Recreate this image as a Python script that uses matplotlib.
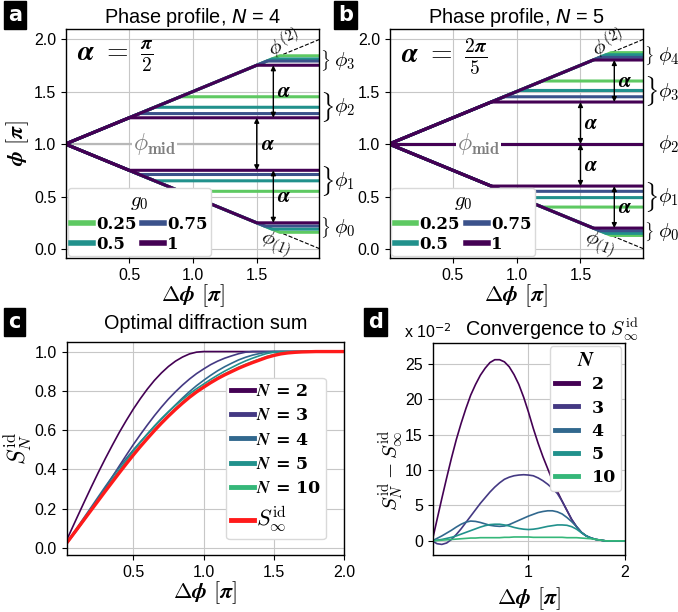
import numpy as np
import matplotlib.pyplot as plt
from matplotlib.lines import Line2D

plt.rcParams['font.family'] = ['Liberation Sans', 'DejaVu Sans']
plt.rcParams['mathtext.fontset'] = 'cm'
plt.rcParams['axes.linewidth'] = 1.0

# ---- phase profiles (panels a, b) ----
g0_values = [0.25, 0.5, 0.75, 1]
g0_labels = ['0.25', '0.5', '0.75', '1']
g0_colors = ['#5ec962', '#21918c', '#3b528b', '#440154']

# phase levels phi_k [pi] for each g0 (rows follow g0_values)
levels_n4 = [[0.16, 0.55, 1.45, 1.84],
             [0.19, 0.65, 1.35, 1.81],
             [0.22, 0.71, 1.29, 1.79],
             [0.25, 0.75, 1.25, 1.75]]
levels_n5 = [[0.13, 0.40, 1.00, 1.60, 1.87],
             [0.15, 0.49, 1.00, 1.51, 1.85],
             [0.175, 0.55, 1.00, 1.45, 1.825],
             [0.20, 0.60, 1.00, 1.40, 1.80]]

# ---- diffraction sums (panels c, d) ----
delta_phi = np.round(np.arange(41) * 0.05, 2)
s_inf = [0.000, 0.048, 0.096, 0.144, 0.192, 0.240, 0.288, 0.335, 0.382, 0.428,
         0.473, 0.516, 0.557, 0.597, 0.635, 0.671, 0.705, 0.737, 0.767, 0.794,
         0.818, 0.841, 0.862, 0.881, 0.898, 0.915, 0.930, 0.944, 0.957, 0.970,
         0.980, 0.988, 0.993, 0.996, 0.998, 0.999, 1.0, 1.0, 1.0, 1.0, 1.0]
# S_N - S_inf, in units of 1e-2
diff_n2 = [0, 3.0, 6.0, 8.9, 11.7, 14.3, 16.6, 18.7, 20.6, 22.1,
           23.4, 24.4, 25.2, 25.6, 25.6, 25.3, 24.6, 23.5, 22.1, 20.3,
           18.2, 15.9, 13.8, 11.9, 10.2, 8.5, 7.0, 5.6, 4.3, 3.0,
           2.0, 1.2, 0.7, 0.4, 0.2, 0.1, 0, 0, 0, 0, 0]
diff_n3 = [0, -0.4, -0.5, -0.3, 0.2, 0.9, 1.7, 2.6, 3.5, 4.4,
           5.3, 6.1, 6.9, 7.6, 8.2, 8.7, 9.0, 9.2, 9.3, 9.35,
           9.3, 9.2, 8.9, 8.5, 8.0, 7.4, 6.7, 5.6, 4.3, 3.0,
           2.0, 1.2, 0.7, 0.4, 0.2, 0.1, 0, 0, 0, 0, 0]
diff_n4 = [0, 0.35, 0.7, 1.1, 1.5, 1.95, 2.35, 2.65, 2.8, 2.75,
           2.6, 2.4, 2.2, 2.1, 2.05, 2.1, 2.3, 2.6, 2.9, 3.2,
           3.5, 3.75, 4.0, 4.15, 4.25, 4.25, 4.1, 3.8, 3.3, 2.7,
           2.0, 1.2, 0.7, 0.4, 0.2, 0.1, 0, 0, 0, 0, 0]
diff_n5 = [0, 0.1, 0.2, 0.35, 0.5, 0.7, 0.95, 1.2, 1.45, 1.7,
           1.95, 2.15, 2.3, 2.35, 2.35, 2.25, 2.1, 1.9, 1.75, 1.65,
           1.6, 1.65, 1.75, 1.9, 2.05, 2.15, 2.25, 2.25, 2.2, 2.0,
           1.65, 1.15, 0.7, 0.4, 0.2, 0.1, 0, 0, 0, 0, 0]
diff_n10 = [0, 0.05, 0.1, 0.15, 0.2, 0.25, 0.3, 0.35, 0.4, 0.4,
            0.45, 0.45, 0.45, 0.45, 0.45, 0.5, 0.5, 0.55, 0.55, 0.55,
            0.55, 0.5, 0.5, 0.5, 0.5, 0.5, 0.5, 0.5, 0.45, 0.45,
            0.45, 0.4, 0.35, 0.3, 0.2, 0.1, 0, 0, 0, 0, 0]
n_values = [2, 3, 4, 5, 10]
n_colors = ['#440154', '#443983', '#31688e', '#21918c', '#35b779']
diffs = [diff_n2, diff_n3, diff_n4, diff_n5, diff_n10]

fig = plt.figure(figsize=(6.78, 6.12), dpi=100)
ax_a = fig.add_axes([0.0973, 0.5784, 0.3736, 0.3742])
ax_b = fig.add_axes([0.5748, 0.5784, 0.3736, 0.3742])
ax_c = fig.add_axes([0.0983, 0.0931, 0.409, 0.3485])
ax_d = fig.add_axes([0.6382, 0.0931, 0.2832, 0.3469])

xlab = r'$\boldsymbol{\Delta\phi}\ [\boldsymbol{\pi}]$'


def bold_serif(size):
    return dict(family='DejaVu Serif', weight='bold', size=size)


def phase_panel(ax, levels, n, alpha_txt, arrows):
    ax.grid(True, color='0.78', lw=0.8)
    ax.set_axisbelow(True)
    ax.plot([0, 2], [1, 2], 'k--', lw=0.8, zorder=1)
    ax.plot([0, 2], [1, 0], 'k--', lw=0.8, zorder=1)
    if n % 2 == 0:
        ax.axhline(1.0, color='0.72', lw=1.6, zorder=1)
    for lv, col in zip(levels, g0_colors):
        for y in lv:
            xs = 2 * abs(y - 1)
            ax.plot([0, xs, 2], [1, y, y], color=col, lw=2.2,
                    solid_capstyle='butt', zorder=2)
    ax.text(0.7, 1.0, r'$\phi_{\mathbf{mid}}$', color='0.5', fontsize=17,
            ha='center', va='center', zorder=4,
            bbox=dict(facecolor='white', edgecolor='none', pad=0.5))
    ax.text(1.72, 1.96, r'$\phi^{(2)}$', fontsize=15, rotation=22,
            ha='center', va='center', zorder=4)
    ax.text(1.65, 0.05, r'$\phi_{(1)}$', fontsize=15, rotation=-22,
            ha='center', va='center', zorder=4)
    ax.text(0.09, 1.84, alpha_txt, fontsize=20, ha='left', va='center')
    for x, y0, y1 in arrows:
        ax.annotate('', xy=(x, y1), xytext=(x, y0),
                    arrowprops=dict(arrowstyle='<|-|>', color='k', lw=1,
                                    mutation_scale=7, shrinkA=0, shrinkB=0),
                    zorder=5)
        ax.text(x + 0.03, (y0 + y1) / 2, r'$\boldsymbol{\alpha}$',
                fontsize=15, ha='left', va='center', zorder=5)
    # group labels on the right
    tr = ax.get_yaxis_transform()
    arr = np.array(levels)
    for k in range(n):
        lo, hi = arr[:, k].min(), arr[:, k].max()
        mid = (lo + hi) / 2
        span = hi - lo
        if span > 0.01:
            ax.text(1.003, mid, r'$\}$', fontsize=8 + 50 * span,
                    transform=tr, ha='left', va='center', clip_on=False)
        ax.text(1.058, mid, r'$\phi_{%d}$' % k, fontsize=15,
                transform=tr, ha='left', va='center', clip_on=False)
    handles = [Line2D([], [], color=c, lw=4) for c in g0_colors]
    ax.legend(handles, g0_labels, title=r'$\boldsymbol{g_0}$', ncol=2,
              loc='lower left', prop=bold_serif(12), title_fontsize=15,
              handlelength=1.3, handletextpad=0.2, columnspacing=0.35,
              labelspacing=0.2, borderpad=0.2, borderaxespad=0.1,
              framealpha=1, edgecolor='0.85')
    ax.set_xlim(0.005, 1.99)
    ax.set_ylim(-0.085, 2.095)
    ax.set_xticks([0.5, 1.0, 1.5])
    ax.set_yticks([0.0, 0.5, 1.0, 1.5, 2.0])
    ax.tick_params(labelsize=11.5)
    ax.set_xlabel(xlab, fontsize=16, labelpad=0)
    ax.set_title('Phase profile, $N$ = %d' % n, fontsize=14.3, pad=4,
                 math_fontfamily='dejavusans')


phase_panel(ax_a, levels_n4, 4,
            r'$\boldsymbol{\alpha}\ =\ \frac{\boldsymbol{\pi}}{\mathbf{2}}$',
            [(1.63, 1.75, 1.25), (1.5, 1.25, 0.75), (1.63, 0.75, 0.25)])
phase_panel(ax_b, levels_n5, 5,
            r'$\boldsymbol{\alpha}\ =\ \frac{\mathbf{2}\boldsymbol{\pi}}{\mathbf{5}}$',
            [(1.765, 1.8, 1.4), (1.5, 1.4, 1.0), (1.5, 1.0, 0.6),
             (1.765, 0.6, 0.2)])
ax_a.set_ylabel(r'$\boldsymbol{\phi}\ [\boldsymbol{\pi}]$', fontsize=16,
                labelpad=2)

# ---- panel c ----
ax = ax_c
ax.grid(True, color='0.78', lw=0.8)
ax.set_axisbelow(True)
for n, col, d in zip(n_values, n_colors, diffs):
    s_n = np.array(s_inf) + np.array(d) / 100
    ax.plot(delta_phi, s_n, color=col, lw=1.2,
            label=r'$\boldsymbol{N}$ = %d' % n)
ax.plot(delta_phi, s_inf, color='#ff1a1a', lw=2.4,
        label=r'$\boldsymbol{S_\infty^{\rm id}}$')
leg = ax.legend(loc='lower right', bbox_to_anchor=(0.935, 0.075),
                prop=bold_serif(12.5), handlelength=1.3, handletextpad=0.1,
                labelspacing=0.42, borderpad=0.3, borderaxespad=0,
                framealpha=1, edgecolor='0.85')
leg.get_texts()[-1].set_fontsize(16)
for h in leg.get_lines():
    h.set_linewidth(3.5)
ax.set_xlim(0.025, 1.98)
ax.set_ylim(-0.037, 1.05)
ax.set_xticks([0.5, 1.0, 1.5, 2.0])
ax.set_yticks([0.0, 0.2, 0.4, 0.6, 0.8, 1.0])
ax.tick_params(labelsize=11.5)
ax.set_xlabel(xlab, fontsize=16, labelpad=0)
ax.set_ylabel(r'$\boldsymbol{S_N^{\rm id}}$', fontsize=17, labelpad=0)
ax.set_title('Optimal diffraction sum', fontsize=14.3, pad=9)

# ---- panel d ----
ax = ax_d
ax.grid(True, color='0.78', lw=0.8)
ax.set_axisbelow(True)
for n, col, d in zip(n_values, n_colors, diffs):
    ax.plot(delta_phi, d, color=col, lw=1.2, label='%d' % n)
leg = ax.legend(loc='upper right', prop=bold_serif(12.5),
                title=r'$\boldsymbol{N}$', title_fontsize=15,
                handlelength=1.3, handletextpad=0.8, labelspacing=0.35,
                borderpad=0.3, borderaxespad=0.2,
                framealpha=1, edgecolor='0.85')
for h in leg.get_lines():
    h.set_linewidth(3.5)
ax.set_xlim(0.005, 2.0)
ax.set_ylim(-2, 28)
ax.set_xticks([1, 2])
ax.set_yticks([0, 5, 10, 15, 20, 25])
ax.tick_params(labelsize=11.5)
ax.set_xlabel(xlab, fontsize=16, labelpad=4)
ax.set_ylabel(r'$\boldsymbol{S_N^{\rm id} - S_\infty^{\rm id}}$', fontsize=15)
ax.yaxis.set_label_coords(-0.14, 0.4)
ax.set_title(r'Convergence to $\boldsymbol{S_\infty^{\rm id}}$', fontsize=14.3,
             x=0.62, pad=5)
ax.text(-0.15, 1.01, r'x 10$^{-2}$', transform=ax.transAxes, fontsize=11.5,
        ha='left', va='bottom', math_fontfamily='dejavusans')

# panel letters
for lab, x, y in [('a', 0.012, 0.975), ('b', 0.4985, 0.975),
                  ('c', 0.012, 0.474), ('d', 0.543, 0.474)]:
    fig.text(x, y, lab, color='white', fontsize=15, fontweight='bold',
             ha='left', va='center', family='DejaVu Sans',
             bbox=dict(facecolor='black', edgecolor='black',
                       boxstyle='square,pad=0.2'))

fig.savefig('out.png', dpi=100)
